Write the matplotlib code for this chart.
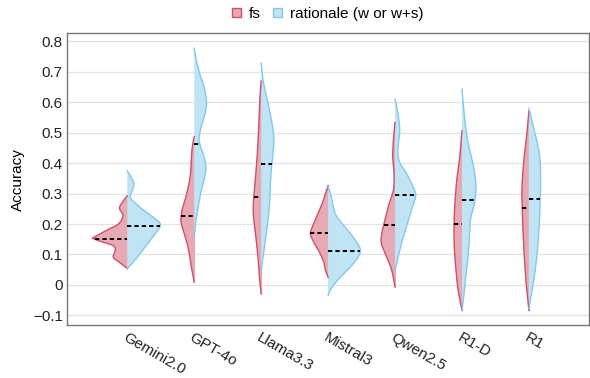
import numpy as np
import matplotlib.pyplot as plt
from matplotlib.patches import Patch

plt.rcParams['font.family'] = ['Liberation Sans', 'DejaVu Sans']

models = ["Gemini2.0", "GPT-4o", "Llama3.3", "Mistral3", "Qwen2.5", "R1-D", "R1"]

# violin outlines: accuracy levels and half-widths (px at 67 px per category)
fs_y = [
    [0.054, 0.075, 0.091, 0.113, 0.129, 0.140, 0.152, 0.157, 0.179, 0.200, 0.228, 0.255, 0.293],
    [0.009, 0.048, 0.091, 0.135, 0.179, 0.211, 0.244, 0.277, 0.321, 0.365, 0.408, 0.452, 0.487],
    [-0.029, 0.009, 0.075, 0.140, 0.195, 0.250, 0.315, 0.392, 0.479, 0.589, 0.670],
    [0.025, 0.048, 0.075, 0.108, 0.140, 0.168, 0.195, 0.228, 0.261, 0.293, 0.326],
    [-0.007, 0.048, 0.091, 0.135, 0.168, 0.211, 0.266, 0.310, 0.365, 0.419, 0.474, 0.534],
    [-0.084, -0.051, -0.007, 0.058, 0.124, 0.190, 0.255, 0.343, 0.419, 0.507],
    [-0.084, -0.012, 0.075, 0.162, 0.250, 0.315, 0.403, 0.490, 0.572],
]
fs_w = [
    [0, 8, 14, 12, 14, 24, 34, 33, 21, 9, 4.3, 7.7, 0],
    [0, 2.3, 4.3, 7, 11, 13.3, 12.3, 9.3, 6, 3.7, 3, 2, 0],
    [0, 1.3, 2.7, 4.7, 6.7, 8, 6.7, 4.7, 3, 1.7, 0],
    [0, 2.7, 4.3, 8.7, 14.3, 17.7, 15.3, 11, 6.7, 3.3, 0],
    [0, 3.3, 8.3, 13.7, 13.3, 10.3, 6, 1.7, 1, 2.3, 1.7, 0],
    [0, 2, 4.3, 6.3, 7.7, 8, 7.3, 5.3, 2.3, 0],
    [0, 2.3, 4.3, 5.7, 6.7, 7, 5.3, 2.3, 0],
]
rat_y = [
    [0.053, 0.064, 0.086, 0.108, 0.129, 0.151, 0.173, 0.192, 0.206, 0.222, 0.244, 0.266, 0.288, 0.310, 0.332, 0.353, 0.375],
    [0.157, 0.211, 0.255, 0.299, 0.343, 0.386, 0.430, 0.474, 0.517, 0.561, 0.600, 0.649, 0.692, 0.736, 0.778],
    [0.048, 0.086, 0.140, 0.206, 0.261, 0.315, 0.370, 0.425, 0.479, 0.534, 0.600, 0.665, 0.729],
    [-0.034, -0.012, 0.020, 0.053, 0.086, 0.110, 0.129, 0.162, 0.195, 0.228, 0.261, 0.293, 0.321],
    [0.048, 0.091, 0.146, 0.201, 0.255, 0.293, 0.321, 0.365, 0.408, 0.452, 0.507, 0.561, 0.610],
    [-0.084, -0.040, 0.015, 0.080, 0.146, 0.211, 0.266, 0.321, 0.386, 0.474, 0.561, 0.643],
    [-0.078, -0.002, 0.075, 0.162, 0.250, 0.337, 0.425, 0.512, 0.580],
]
rat_w = [
    [0, 3, 9, 14, 19, 24, 29, 33, 32, 26, 17, 9, 3, 5, 6.7, 4, 0],
    [0, 1.7, 4, 6.3, 9.7, 11.7, 9, 5, 6.7, 10.7, 12.3, 10, 5.7, 2.3, 0],
    [0, 1.7, 4, 6.7, 8.3, 9, 10, 11.7, 12.7, 10.7, 6.7, 2.3, 0],
    [0, 3, 10.7, 20.7, 29, 32.3, 30.7, 24, 15.7, 8, 5, 3, 0],
    [0, 3, 7.3, 12.3, 17.3, 20.7, 18.3, 11.7, 4, 3, 4.7, 3, 0],
    [0, 1.7, 3.3, 5.7, 7.3, 8.3, 12.3, 14, 11.7, 5.7, 2.3, 0],
    [0, 4, 7.3, 9.7, 11, 11.7, 10.7, 5, 0],
]
fs_median = [0.150, 0.228, 0.288, 0.171, 0.196, 0.200, 0.252]
rat_median = [0.192, 0.463, 0.397, 0.113, 0.296, 0.279, 0.281]

red_edge, red_fill = '#cf5068', '#e7a9b4'
blue_edge, blue_fill = '#84c8ec', '#c1e4f5'


def smooth(y, w, n=24):
    # Catmull-Rom curve through the read-off outline points
    pts = np.column_stack([y, w])
    p = np.vstack([pts[0], pts, pts[-1]])
    t = np.linspace(0, 1, n, endpoint=False)[:, None]
    out = []
    for k in range(1, len(p) - 2):
        p0, p1, p2, p3 = p[k - 1], p[k], p[k + 1], p[k + 2]
        out.append(0.5 * (2 * p1 + (p2 - p0) * t + (2 * p0 - 5 * p1 + 4 * p2 - p3) * t ** 2
                          + (3 * p1 - p0 - 3 * p2 + p3) * t ** 3))
    out.append(pts[-1:])
    c = np.vstack(out)
    return c[:, 0], np.clip(c[:, 1], 0, None)


fig = plt.figure(figsize=(5.9, 3.78), dpi=100)
ax = fig.add_axes([0.1136, 0.140, 0.885, 0.772])

px = 1 / 67.0
dash = (0, (2.2, 1.6))
for i in range(len(models)):
    # left half: fs
    y, w = smooth(fs_y[i], fs_w[i])
    w = w * px
    ax.fill(np.r_[i - w, i], np.r_[y, y[0]], facecolor=red_fill, edgecolor='none', zorder=2)
    ax.plot(i - w, y, color=red_edge, lw=1, zorder=3)
    ax.plot([i, i], [y[0], y[-1]], color=red_fill, lw=0.8, zorder=2)
    m = np.interp(fs_median[i], y, w)
    ax.plot([i - m, i], [fs_median[i]] * 2, color='black', lw=1.4, ls=dash, zorder=4)
    # right half: rationale
    y, w = smooth(rat_y[i], rat_w[i])
    w = w * px
    ax.fill(np.r_[i + w, i], np.r_[y, y[0]], facecolor=blue_fill, edgecolor='none', zorder=2)
    ax.plot(i + w, y, color=blue_edge, lw=1, zorder=3)
    m = np.interp(rat_median[i], y, w)
    ax.plot([i, i + m], [rat_median[i]] * 2, color='black', lw=1.4, ls=dash, zorder=4)

ax.set_xlim(-0.9, 6.9)
ax.set_ylim(-0.132, 0.827)
yt = [-0.1, 0, 0.1, 0.2, 0.3, 0.4, 0.5, 0.6, 0.7, 0.8]
ax.set_yticks(yt)
ax.set_yticklabels(['\u22120.1', '0', '0.1', '0.2', '0.3', '0.4', '0.5', '0.6', '0.7', '0.8'])
ax.set_xticks(range(len(models)))
ax.set_xticklabels(models, rotation=-30, ha='left', va='top', rotation_mode='anchor')
ax.tick_params(axis='both', length=0, labelsize=11, colors='#222222')
ax.tick_params(axis='x', pad=4)
ax.tick_params(axis='y', pad=3)
ax.grid(axis='y', color='#e3e3e3', lw=0.9, zorder=0)
ax.set_axisbelow(True)
for s in ax.spines.values():
    s.set_color('#777777')
    s.set_linewidth(1)
ax.set_ylabel('Accuracy', fontsize=11, labelpad=6)

handles = [Patch(facecolor=red_fill, edgecolor=red_edge, lw=1),
           Patch(facecolor=blue_fill, edgecolor=blue_edge, lw=1)]
fig.legend(handles, ['fs', 'rationale (w or w+s)'], loc='center', bbox_to_anchor=(0.555, 0.963),
           ncol=2, frameon=False, fontsize=11, handlelength=0.6, handleheight=0.6,
           handletextpad=0.5, columnspacing=0.8)

fig.savefig('out.png', dpi=100)
